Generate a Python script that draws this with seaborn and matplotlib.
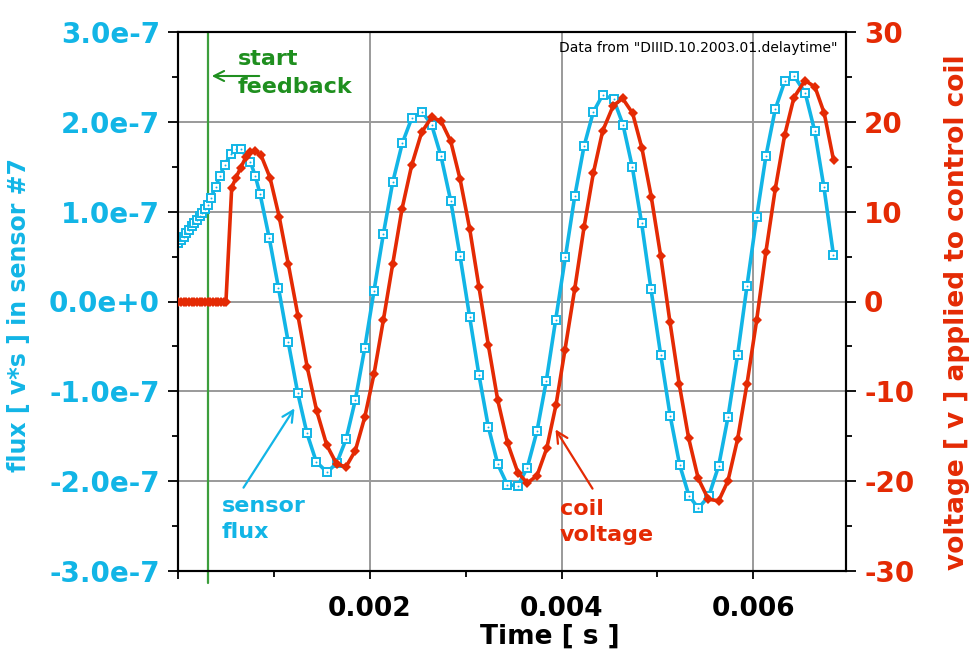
import numpy as np
import pandas as pd
import matplotlib
matplotlib.use("Agg")
import matplotlib.pyplot as plt
import seaborn as sns
from matplotlib.ticker import FixedLocator

# ---------------- data ----------------
flux_time = [0.000003, 0.000031, 0.000059, 0.000087, 0.000115, 0.000143, 0.000170,
             0.000198, 0.000226, 0.000253, 0.000282, 0.000310, 0.000341, 0.000393,
             0.000438, 0.000487, 0.000553, 0.000602, 0.000654, 0.000756, 0.000805,
             0.000855, 0.000951, 0.001048, 0.001150, 0.001248, 0.001345, 0.001442,
             0.001554, 0.001655, 0.001752, 0.001849, 0.001947, 0.002044, 0.002141,
             0.002239, 0.002339, 0.002437, 0.002547, 0.002645, 0.002742, 0.002844,
             0.002941, 0.003042, 0.003139, 0.003236, 0.003335, 0.003434, 0.003545,
             0.003642, 0.003743, 0.003840, 0.003938, 0.004039, 0.004137, 0.004234,
             0.004331, 0.004429, 0.004543, 0.004640, 0.004737, 0.004835, 0.004932,
             0.005033, 0.005133, 0.005231, 0.005328, 0.005425, 0.005534, 0.005638,
             0.005735, 0.005836, 0.005933, 0.006034, 0.006131, 0.006228, 0.006330,
             0.006426, 0.006541, 0.006639, 0.006736, 0.006835]
# flux in units of 1e-7 v*s
flux_values = [0.648, 0.68, 0.72, 0.757, 0.80, 0.84, 0.875,
               0.91, 0.95, 0.99, 1.03, 1.07, 1.15, 1.28,
               1.40, 1.52, 1.64, 1.70, 1.70, 1.55, 1.40,
               1.20, 0.71, 0.15, -0.454, -1.016, -1.468, -1.784,
               -1.90, -1.80, -1.535, -1.097, -0.52, 0.12, 0.748,
               1.327, 1.762, 2.04, 2.11, 1.966, 1.62, 1.12,
               0.507, -0.176, -0.822, -1.394, -1.813, -2.04, -2.05,
               -1.85, -1.445, -0.889, -0.206, 0.49, 1.17, 1.728,
               2.11, 2.30, 2.25, 1.97, 1.50, 0.87, 0.14,
               -0.59, -1.275, -1.817, -2.16, -2.30, -2.17, -1.83,
               -1.29, -0.59, 0.17, 0.94, 1.62, 2.14, 2.46,
               2.51, 2.32, 1.90, 1.27, 0.52]

coil_time = [0.000003, 0.000031, 0.000059, 0.000087, 0.000115, 0.000143, 0.000170,
             0.000198, 0.000226, 0.000253, 0.000282, 0.000310, 0.000338, 0.000366,
             0.000394, 0.000422, 0.000450, 0.000478, 0.000500, 0.000560, 0.000605,
             0.000654, 0.000709, 0.000751, 0.000803, 0.000865, 0.000959, 0.001056,
             0.001150, 0.001251, 0.001348, 0.001446, 0.001551, 0.001655, 0.001752,
             0.001849, 0.001947, 0.002044, 0.002141, 0.002239, 0.002336, 0.002437,
             0.002541, 0.002645, 0.002742, 0.002844, 0.002941, 0.003042, 0.003139,
             0.003236, 0.003334, 0.003438, 0.003545, 0.003642, 0.003743, 0.003845,
             0.003942, 0.004035, 0.004137, 0.004234, 0.004331, 0.004429, 0.004539,
             0.004637, 0.004741, 0.004838, 0.004935, 0.005033, 0.005130, 0.005227,
             0.005325, 0.005425, 0.005530, 0.005638, 0.005735, 0.005836, 0.005933,
             0.006034, 0.006131, 0.006228, 0.006326, 0.006423, 0.006538, 0.006642,
             0.006739, 0.006837]
coil_voltage = [0, 0, 0, 0, 0, 0, 0,
                0, 0, 0, 0, 0, 0, 0,
                0, 0, 0, 0, 0, 12.67, 13.8,
                14.9, 16.1, 16.6, 16.76, 16.3, 13.8, 9.4,
                4.18, -1.58, -7.33, -12.16, -15.98, -18.1, -18.4,
                -16.6, -12.9, -8.07, -2.1, 4.18, 10.3, 15.17,
                18.84, 20.5, 20.1, 17.84, 13.64, 8.07, 1.58,
                -4.84, -10.97, -15.8, -19.06, -20.2, -19.4, -16.35,
                -11.5, -5.4, 1.39, 8.26, 14.28, 19.0, 21.8,
                22.6, 20.95, 17.06, 11.67, 5.1, -2.28, -9.2,
                -15.2, -19.7, -22.0, -22.2, -19.96, -15.3, -9.2,
                -2.1, 5.55, 12.5, 18.5, 22.7, 24.6, 23.9,
                20.96, 15.7]

feedback_time = 0.000313

x_major = [0.0, 0.002, 0.004, 0.006]
x_major_labels = ["", "0.002", "0.004", "0.006"]
x_minor = [0.001, 0.003, 0.005]
flux_ticks = [-3e-7, -2e-7, -1e-7, 0.0, 1e-7, 2e-7, 3e-7]
flux_tick_labels = ["-3.0e-7", "-2.0e-7", "-1.0e-7", "0.0e+0", "1.0e-7", "2.0e-7", "3.0e-7"]
flux_minor = [-2.5e-7, -1.5e-7, -0.5e-7, 0.5e-7, 1.5e-7, 2.5e-7]
volt_ticks = [-30, -20, -10, 0, 10, 20, 30]
volt_tick_labels = ["-30", "-20", "-10", "0", "10", "20", "30"]
volt_minor = [-25, -15, -5, 5, 15, 25]

CYAN = "#12b5e6"
RED = "#e42a04"
GREEN = "#1f8f1f"
GREEN_LINE = "#3c9e3c"

# ---------------- figure ----------------
sns.set_theme(style="white")
plt.rcParams["font.family"] = ["DejaVu Sans"]

fig = plt.figure(figsize=(9.79, 6.56), dpi=100)
ax = fig.add_axes([178 / 979, 1 - 571 / 656, 668 / 979, 539 / 656])

flux_df = pd.DataFrame({"t": flux_time, "flux": np.array(flux_values) * 1e-7})
coil_df = pd.DataFrame({"t": coil_time, "v": coil_voltage})

ax.grid(True, which="major", color="#9a9a9a", lw=1.4)
ax.set_axisbelow(True)

sns.lineplot(data=flux_df, x="t", y="flux", ax=ax, color=CYAN, lw=2.6,
             marker="s", markersize=6, markerfacecolor="white",
             markeredgecolor=CYAN, markeredgewidth=1.4, errorbar=None,
             estimator=None, sort=False, zorder=3)
sns.scatterplot(data=flux_df, x="t", y="flux", ax=ax, color=CYAN, s=2,
                linewidth=0, zorder=4)

ax.set_xlim(0, 0.006966)
ax.set_ylim(-3e-7, 3e-7)

ax2 = ax.twinx()
sns.lineplot(data=coil_df, x="t", y="v", ax=ax2, color=RED, lw=2.6,
             marker="D", markersize=5, markeredgewidth=0, errorbar=None,
             estimator=None, sort=False, zorder=3)
ax2.set_ylim(-30, 30)
ax2.set_xlim(0, 0.006966)

# vertical start-feedback line
ax.axvline(feedback_time, ymin=-0.022, ymax=1, color=GREEN_LINE, lw=1.6,
           clip_on=False, zorder=2)

# ticks
ax.xaxis.set_major_locator(FixedLocator(x_major))
ax.set_xticklabels(x_major_labels)
ax.xaxis.set_minor_locator(FixedLocator(x_minor))
ax.yaxis.set_major_locator(FixedLocator(flux_ticks))
ax.set_yticklabels(flux_tick_labels)
ax.yaxis.set_minor_locator(FixedLocator(flux_minor))
ax2.yaxis.set_major_locator(FixedLocator(volt_ticks))
ax2.set_yticklabels(volt_tick_labels)
ax2.yaxis.set_minor_locator(FixedLocator(volt_minor))

TICK_FS = 20
ax.tick_params(axis="x", which="major", direction="out", length=6, width=1.3,
               colors="black", labelsize=19, pad=12, bottom=True, top=False)
ax.tick_params(axis="x", which="minor", direction="out", length=4, width=1.3,
               colors="black", bottom=True)
ax.tick_params(axis="y", which="major", direction="out", length=7, width=1.3,
               color="black", labelcolor=CYAN, labelsize=TICK_FS, pad=6, left=True)
ax.tick_params(axis="y", which="minor", direction="out", length=4, width=1.3,
               color="black", left=True)
ax2.tick_params(axis="y", which="major", direction="out", length=7, width=1.3,
                color="black", labelcolor=RED, labelsize=TICK_FS, pad=6, right=True)
ax2.tick_params(axis="y", which="minor", direction="out", length=4, width=1.3,
                color="black", right=True)
for lab in ax.get_xticklabels() + ax.get_yticklabels() + ax2.get_yticklabels():
    lab.set_fontweight("bold")

for a in (ax, ax2):
    for sp in a.spines.values():
        sp.set_color("black")
        sp.set_linewidth(1.5)
        sp.set_visible(True)

def fx(px):
    return (px - 178) / 668

def fy(py):
    return (571 - py) / 539

# axis labels
ax.set_xlabel("Time [ s ]", fontsize=19, fontweight="bold", color="black")
ax.xaxis.set_label_coords(fx(550), fy(624))
ax.set_ylabel("flux [ v*s ] in sensor #7", fontsize=17, fontweight="bold", color=CYAN)
ax.yaxis.set_label_coords(fx(31), fy(315))
ax2.set_ylabel("voltage [ v ] applied to control coil", fontsize=19,
               fontweight="bold", color=RED, rotation=90)
ax2.yaxis.set_label_coords(fx(944), fy(312))

# annotations
ax.text(fx(238), fy(73), "start\nfeedback", transform=ax.transAxes, color=GREEN,
        fontsize=16, fontweight="bold", ha="left", va="center", linespacing=1.5)
ax.annotate("", xy=(fx(209), fy(76)), xytext=(fx(262), fy(76)),
            xycoords="axes fraction", textcoords="axes fraction",
            arrowprops=dict(arrowstyle="->", color=GREEN, lw=1.5,
                            mutation_scale=18))

ax.text(fx(222), fy(519), "sensor\nflux", transform=ax.transAxes, color=CYAN,
        fontsize=16, fontweight="bold", ha="left", va="center", linespacing=1.4)
ax.annotate("", xy=(fx(296), fy(406)), xytext=(fx(242), fy(490)),
            xycoords="axes fraction", textcoords="axes fraction",
            arrowprops=dict(arrowstyle="->", color=CYAN, lw=1.6,
                            mutation_scale=20))

ax.text(fx(560), fy(522), "coil\nvoltage", transform=ax.transAxes, color=RED,
        fontsize=16, fontweight="bold", ha="left", va="center", linespacing=1.4)
ax.annotate("", xy=(fx(554), fy(427)), xytext=(fx(594), fy(491)),
            xycoords="axes fraction", textcoords="axes fraction",
            arrowprops=dict(arrowstyle="->", color=RED, lw=1.6,
                            mutation_scale=20))

ax.text(fx(838), fy(48), 'Data from "DIIID.10.2003.01.delaytime"',
        transform=ax.transAxes, color="black", fontsize=10, ha="right", va="center")

fig.savefig("out.png", dpi=100)
